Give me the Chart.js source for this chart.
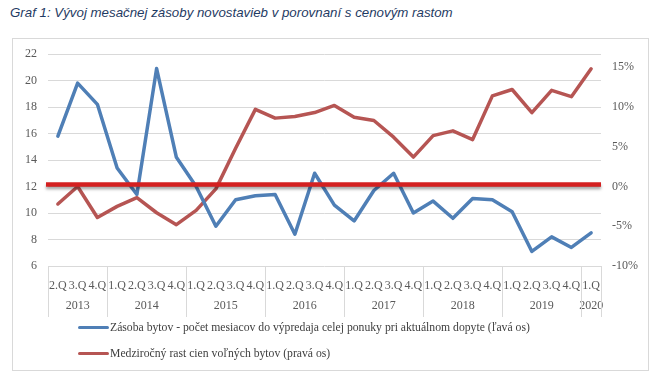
<!DOCTYPE html>
<html>
<head>
<meta charset="utf-8">
<script src="https://cdn.jsdelivr.net/npm/chart.js@4.4.1/dist/chart.umd.min.js"></script>
<style>
  html, body { margin: 0; padding: 0; background: #fff; }
  body { width: 655px; height: 377px; position: relative; overflow: hidden; }
  #title { position: absolute; left: 10px; top: 5px; font-family: "Liberation Sans", Arial, sans-serif; font-style: italic; font-size: 13.3px; color: #1f3b63; white-space: nowrap; }
  #box { position: absolute; left: 12px; top: 38px; width: 637px; height: 333px; border: 1px solid #d9d9d9; box-sizing: border-box; }
  #c { position: absolute; left: 0; top: 0; }
  .leg { position: absolute; left: 78px; font-family: "Liberation Serif", "DejaVu Serif", serif; font-size: 11.7px; color: #404040; white-space: nowrap; display: flex; align-items: center; }
  .leg span.ln { display: inline-block; width: 31px; height: 3.5px; border-radius: 2px; margin-right: 1px; }
</style>
</head>
<body>
<div id="title">Graf 1: Vývoj mesačnej zásoby novostavieb v porovnaní s cenovým rastom</div>
<div id="box"></div>
<canvas id="c" width="655" height="377"></canvas>
<div class="leg" style="top:321px"><span class="ln" style="background:#4f7fb6"></span><span id="l1"></span></div>
<div class="leg" style="top:347px"><span class="ln" style="background:#b65553"></span><span id="l2"></span></div>
<script>
// ---- data ----
const quarters = ['2.Q','3.Q','4.Q',
  '1.Q','2.Q','3.Q','4.Q',
  '1.Q','2.Q','3.Q','4.Q',
  '1.Q','2.Q','3.Q','4.Q',
  '1.Q','2.Q','3.Q','4.Q',
  '1.Q','2.Q','3.Q','4.Q',
  '1.Q','2.Q','3.Q','4.Q',
  '1.Q'];
const years = ['2013','2013','2013',
  '2014','2014','2014','2014',
  '2015','2015','2015','2015',
  '2016','2016','2016','2016',
  '2017','2017','2017','2017',
  '2018','2018','2018','2018',
  '2019','2019','2019','2019',
  '2020'];
const stockMonths = [15.8, 19.8, 18.2,
  13.4, 11.4, 20.9, 14.2,
  12.0, 9.0, 11.0, 11.3,
  11.4, 8.4, 13.0, 10.6,
  9.4, 11.7, 13.0, 10.0,
  10.9, 9.6, 11.1, 11.0,
  10.1, 7.1, 8.2, 7.4,
  8.5];
const priceGrowth = [-2.2, 0.0, -3.9,
  -2.5, -1.4, -3.3, -4.8,
  -3.0, -0.3, 4.8, 9.7,
  8.6, 8.8, 9.3, 10.2,
  8.7, 8.3, 6.2, 3.7,
  6.4, 7.0, 5.9, 11.4,
  12.2, 9.3, 12.1, 11.3,
  14.8];
const leftTicks = {min: 6, max: 22, step: 2};
const rightTickValues = [-10, -5, 0, 5, 10, 15];
const rightRange = {min: -10, max: 16.6667};
const seriesNames = ['Zásoba bytov - počet mesiacov do výpredaja celej ponuky pri aktuálnom dopyte (ľavá os)',
  'Medziročný rast cien voľných bytov  (pravá os)'];
const zeroLine = 0;

document.getElementById('l1').textContent = seriesNames[0];
document.getElementById('l2').textContent = seriesNames[1];

const serif = '"Liberation Serif", "DejaVu Serif", serif';

const extras = {
  id: 'extras',
  afterDatasetsDraw(chart) {
    const ctx = chart.ctx, a = chart.chartArea;
    const y = chart.scales.y1.getPixelForValue(zeroLine) - 2;
    ctx.save();
    ctx.shadowColor = 'rgba(0,0,0,0.35)';
    ctx.shadowBlur = 3;
    ctx.shadowOffsetY = 2.5;
    ctx.strokeStyle = '#d42020';
    ctx.lineWidth = 4.5;
    ctx.beginPath();
    ctx.moveTo(a.left - 2, y);
    ctx.lineTo(a.right, y);
    ctx.stroke();
    ctx.restore();
  },
  afterDraw(chart) {
    const ctx = chart.ctx, a = chart.chartArea, x = chart.scales.x;
    const half = (x.getPixelForValue(1) - x.getPixelForValue(0)) / 2;
    ctx.save();
    ctx.strokeStyle = '#d9d9d9';
    ctx.lineWidth = 1;
    const bottom = 317;
    let start = 0;
    ctx.font = '12px ' + serif;
    ctx.fillStyle = '#595959';
    ctx.textAlign = 'center';
    ctx.textBaseline = 'middle';
    for (let i = 1; i <= years.length; i++) {
      if (i === years.length || years[i] !== years[start]) {
        const l = x.getPixelForValue(start) - half;
        const r = x.getPixelForValue(i - 1) + half;
        ctx.fillText(years[start], (l + r) / 2, 306);
        start = i;
      }
    }
    ctx.beginPath();
    for (let i = 0; i <= years.length; i++) {
      if (i === 0 || i === years.length || years[i] !== years[i - 1]) {
        const px = Math.round((i < years.length ? x.getPixelForValue(i) - half : x.getPixelForValue(i - 1) + half)) + 0.5;
        ctx.moveTo(px, a.bottom);
        ctx.lineTo(px, bottom);
      }
    }
    ctx.stroke();
    ctx.restore();
  }
};

new Chart(document.getElementById('c'), {
  type: 'line',
  data: {
    labels: quarters,
    datasets: [
      { label: seriesNames[0], data: stockMonths, yAxisID: 'y', borderColor: '#4f7fb6', borderWidth: 3.5,
        pointRadius: 0, tension: 0, borderCapStyle: 'round', borderJoinStyle: 'round' },
      { label: seriesNames[1], data: priceGrowth, yAxisID: 'y1', borderColor: '#b65553', borderWidth: 3.5,
        pointRadius: 0, tension: 0, borderCapStyle: 'round', borderJoinStyle: 'round' }
    ]
  },
  options: {
    responsive: false,
    animation: false,
    devicePixelRatio: 1,
    layout: { padding: { left: 0, right: 0, top: 54, bottom: 0 } },
    plugins: { legend: { display: false }, tooltip: { enabled: false } },
    scales: {
      x: {
        type: 'category',
        offset: true,
        grid: { display: false },
        border: { display: false },
        ticks: { autoSkip: false, maxRotation: 0, minRotation: 0, padding: 5, color: '#595959', font: { family: serif, size: 12 } },
        afterFit(s) { s.height = 111; }
      },
      y: {
        position: 'left',
        min: leftTicks.min, max: leftTicks.max,
        ticks: { stepSize: leftTicks.step, padding: 11, color: '#595959', font: { family: serif, size: 12 } },
        grid: { color: '#d9d9d9', lineWidth: 1, drawTicks: false },
        border: { display: false },
        afterFit(s) { s.width = 48; }
      },
      y1: {
        position: 'right',
        min: rightRange.min, max: rightRange.max,
        afterBuildTicks(s) { s.ticks = rightTickValues.map(v => ({ value: v })); },
        ticks: { padding: 11, color: '#595959', font: { family: serif, size: 12 },
          callback(v) { return v + '%'; } },
        grid: { display: false, drawTicks: false },
        border: { display: false },
        afterFit(s) { s.width = 54; }
      }
    }
  },
  plugins: [extras]
});
</script>
</body>
</html>
